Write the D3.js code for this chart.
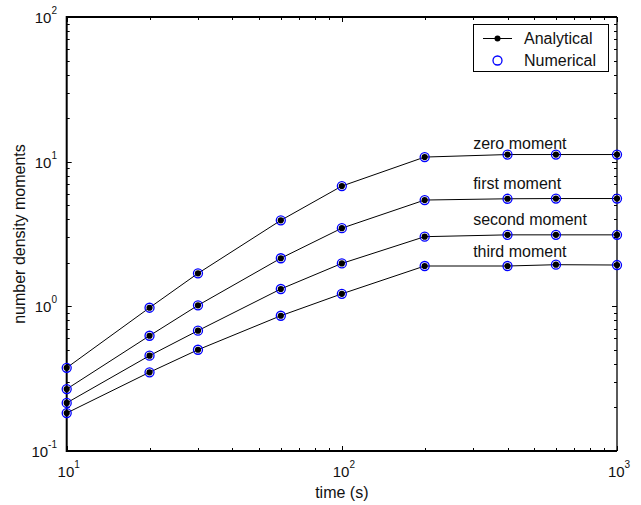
<!DOCTYPE html>
<html>
<head>
<meta charset="utf-8">
<script src="https://d3js.org/d3.v7.min.js"></script>
<style>
  body { margin: 0; background: #fff; }
  svg { display: block; }
  text { font-family: "Liberation Sans", Arial, sans-serif; fill: #111; }
</style>
</head>
<body>
<svg id="chart"></svg>
<script>
// sample times (s)
var times = [10, 20, 30, 60, 100, 200, 400, 600, 1000];

// moments
var zeroMoment   = [0.376, 0.978, 1.69, 3.93, 6.78, 10.76, 11.2, 11.2, 11.2];
var firstMoment  = [0.268, 0.626, 1.016, 2.15, 3.47, 5.43, 5.54, 5.56, 5.56];
var secondMoment = [0.215, 0.456, 0.679, 1.318, 1.98, 3.03, 3.12, 3.12, 3.12];
var thirdMoment  = [0.183, 0.350, 0.501, 0.861, 1.22, 1.90, 1.90, 1.94, 1.93];

var seriesNames = ["zero moment", "first moment", "second moment", "third moment"];
var labelTime = 300;
var labelValues = [12.2, 6.44, 3.65, 2.20];

var xDecades = [1, 2, 3];
var yDecades = [-1, 0, 1, 2];

var width = 641,
    height = 505;

var plotLeft = 66.7, plotRight = 617, plotTop = 17, plotBottom = 451;

var svg = d3.select("#chart")
    .attr("width", width)
    .attr("height", height);

var x = d3.scaleLog().domain([10, 1000]).range([plotLeft, plotRight]);
var y = d3.scaleLog().domain([0.1, 100]).range([plotBottom, plotTop]);

var allSeries = [zeroMoment, firstMoment, secondMoment, thirdMoment];

// ticks (major + minor), drawn inward on all four sides
var xTicks = x.ticks();
var yTicks = y.ticks();

function isMajor(v) {
    var l = Math.log10(v);
    return Math.abs(l - Math.round(l)) < 1e-9;
}

var tickG = svg.append("g")
    .attr("stroke", "#000")
    .attr("stroke-width", 1);

xTicks.forEach(function(v) {
    var len = isMajor(v) ? 5 : 3;
    var px = Math.round(x(v)) + 0.5;
    tickG.append("line").attr("x1", px).attr("x2", px).attr("y1", plotBottom).attr("y2", plotBottom - len);
    tickG.append("line").attr("x1", px).attr("x2", px).attr("y1", plotTop).attr("y2", plotTop + len);
});

yTicks.forEach(function(v) {
    var len = isMajor(v) ? 5 : 3;
    var py = Math.round(y(v)) + 0.5;
    tickG.append("line").attr("x1", plotLeft).attr("x2", plotLeft + len).attr("y1", py).attr("y2", py);
    tickG.append("line").attr("x1", plotRight).attr("x2", plotRight - len).attr("y1", py).attr("y2", py);
});

// frame
svg.append("path")
    .attr("d", "M" + plotRight + "," + plotTop + "H" + plotLeft + "V" + plotBottom + "H" + plotRight)
    .attr("fill", "none")
    .attr("stroke", "#000")
    .attr("stroke-width", 2);
svg.append("path")
    .attr("d", "M" + plotRight + "," + plotTop + "V" + plotBottom)
    .attr("fill", "none")
    .attr("stroke", "#000")
    .attr("stroke-width", 1.3);

// tick labels
var xLab = svg.append("g").selectAll("text")
    .data(xDecades)
    .enter().append("text")
    .attr("x", function(d) { return x(Math.pow(10, d)) + 2; })
    .attr("y", 477)
    .attr("text-anchor", "middle")
    .style("font-size", "15px");
xLab.append("tspan").text("10");
xLab.append("tspan").attr("dy", -9).style("font-size", "10px").text(function(d) { return d; });

var yLab = svg.append("g").selectAll("text")
    .data(yDecades)
    .enter().append("text")
    .attr("x", 57)
    .attr("y", function(d) { return y(Math.pow(10, d)) + 6; })
    .attr("text-anchor", "end")
    .style("font-size", "15px");
yLab.append("tspan").text("10");
yLab.append("tspan").attr("dy", -9).style("font-size", "10px").text(function(d) { return d; });

// axis titles
svg.append("text")
    .attr("x", (plotLeft + plotRight) / 2)
    .attr("y", 498)
    .attr("text-anchor", "middle")
    .style("font-size", "16px")
    .text("time (s)");

svg.append("text")
    .attr("transform", "translate(25," + ((plotTop + plotBottom) / 2) + ") rotate(-90)")
    .attr("text-anchor", "middle")
    .style("font-size", "16px")
    .text("number density moments");

// lines
var line = d3.line()
    .x(function(d, i) { return x(times[i]); })
    .y(function(d) { return y(d); });

svg.append("g").selectAll("path")
    .data(allSeries)
    .enter().append("path")
    .attr("d", line)
    .attr("fill", "none")
    .attr("stroke", "#000")
    .attr("stroke-width", 1);

// markers: analytical (black dot) and numerical (blue circle)
allSeries.forEach(function(s) {
    var g = svg.append("g");
    g.selectAll("circle.num")
        .data(s)
        .enter().append("circle")
        .attr("class", "num")
        .attr("cx", function(d, i) { return x(times[i]); })
        .attr("cy", function(d) { return y(d); })
        .attr("r", 4.5)
        .attr("fill", "none")
        .attr("stroke", "#0000ff")
        .attr("stroke-width", 1.3);
    g.selectAll("circle.ana")
        .data(s)
        .enter().append("circle")
        .attr("class", "ana")
        .attr("cx", function(d, i) { return x(times[i]); })
        .attr("cy", function(d) { return y(d); })
        .attr("r", 3.1)
        .attr("fill", "#000");
});

// series labels
svg.append("g").selectAll("text")
    .data(seriesNames)
    .enter().append("text")
    .attr("x", x(labelTime))
    .attr("y", function(d, i) { return y(labelValues[i]); })
    .style("font-size", "16px")
    .text(function(d) { return d; });

// legend
var legend = svg.append("g");
legend.append("rect")
    .attr("x", 473.5).attr("y", 24.5)
    .attr("width", 135).attr("height", 47)
    .attr("fill", "#fff")
    .attr("stroke", "#000")
    .attr("stroke-width", 1);
legend.append("line")
    .attr("x1", 483).attr("x2", 512).attr("y1", 38.5).attr("y2", 38.5)
    .attr("stroke", "#000").attr("stroke-width", 1);
legend.append("circle")
    .attr("cx", 497.5).attr("cy", 38.5).attr("r", 3)
    .attr("fill", "#000");
legend.append("circle")
    .attr("cx", 497.5).attr("cy", 60.5).attr("r", 4.5)
    .attr("fill", "none").attr("stroke", "#0000ff").attr("stroke-width", 1.3);
legend.append("text")
    .attr("x", 524).attr("y", 44)
    .style("font-size", "16px")
    .text("Analytical");
legend.append("text")
    .attr("x", 524).attr("y", 66)
    .style("font-size", "16px")
    .text("Numerical");
</script>
</body>
</html>
